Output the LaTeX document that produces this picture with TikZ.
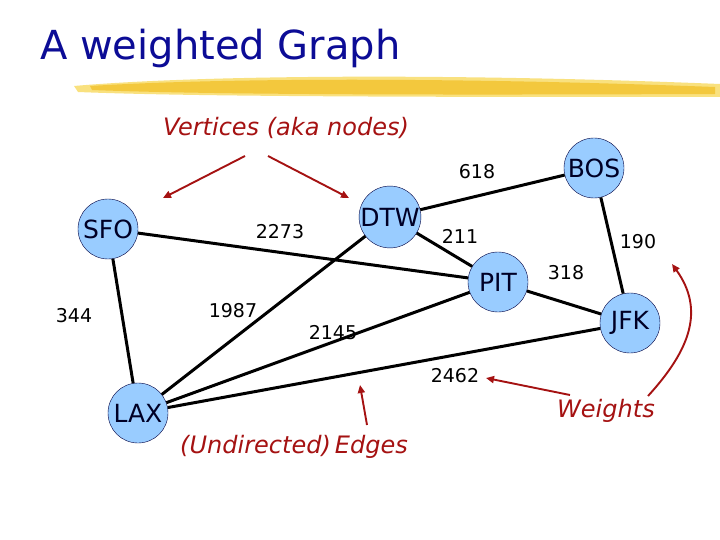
\documentclass[tikz,border=0pt]{standalone}
\usepackage{fontspec}
\setmainfont{DejaVu Sans}
\usetikzlibrary{arrows.meta}
\definecolor{titleblue}{RGB}{12,12,150}
\definecolor{nodeblue}{RGB}{153,204,255}
\definecolor{darkred}{RGB}{165,18,18}
\definecolor{brushA}{RGB}{242,196,50}
\definecolor{brushB}{RGB}{248,220,105}
\begin{document}
\begin{tikzpicture}[x=1pt,y=-1pt,
  vertex/.style={circle,draw=black!75!blue,fill=nodeblue,minimum size=60pt,inner sep=0pt,font=\fontsize{25}{25}\selectfont,text=black!85!blue},
  edge/.style={line width=3pt,black},
  weight/.style={font=\fontsize{19}{19}\selectfont},
  note/.style={text=darkred,font=\itshape\fontsize{24}{24}\selectfont},
  pointer/.style={darkred,line width=1.9pt,-{Triangle[length=8pt,width=7pt]}}]
\useasboundingbox[fill=white] (0,0) rectangle (720,540);
% title
\node[anchor=base west,text=titleblue,font=\fontsize{40}{40}\selectfont,inner sep=0pt] (title) at (40,60) {A weighted Graph};
% brush stroke
\fill[brushB,opacity=0.85] (74,86) .. controls (200,75) and (450,73) .. (720,84) -- (720,97) .. controls (450,97) and (200,97) .. (78,92) -- cycle;
\fill[brushA,opacity=0.85] (90,86) .. controls (220,78) and (450,77) .. (715,87) -- (715,94) .. controls (450,95) and (220,95) .. (92,90) -- cycle;
% vertices
\node[vertex] (SFO) at (108,229) {SFO};
\node[vertex] (DTW) at (390,217) {DTW};
\node[vertex] (BOS) at (594,168) {BOS};
\node[vertex] (PIT) at (498,282) {PIT};
\node[vertex] (JFK) at (630,323) {JFK};
\node[vertex] (LAX) at (138,413) {LAX};
% edges
\draw[edge] (SFO) -- (PIT);
\draw[edge] (SFO) -- (LAX);
\draw[edge] (DTW) -- (LAX);
\draw[edge] (DTW) -- (BOS);
\draw[edge] (DTW) -- (PIT);
\draw[edge] (BOS) -- (JFK);
\draw[edge] (PIT) -- (JFK);
\draw[edge] (PIT) -- (LAX);
\draw[edge] (JFK) -- (LAX);
% weights
\node[weight] (w2273) at (280,232) {2273};
\node[weight] (w1987) at (233,311) {1987};
\node[weight] (w618) at (477,172) {618};
\node[weight] (w211) at (460,236) {211};
\node[weight] (w190) at (638,242) {190};
\node[weight] (w318) at (566,273) {318};
\node[weight] (w2145) at (333,333) {2145};
\node[weight] (w2462) at (455,376) {2462};
\node[weight] (w344) at (74,316) {344};
% notes
\node[note] (nv) at (286,128) {Vertices (aka nodes)};
\node[note] (ne) at (294,447) {(Undirected)\,Edges};
\node[note] (nw) at (606,411) {Weights};
% pointers
\coordinate (v1s) at (245,156); \coordinate (v1e) at (163,198);
\coordinate (v2s) at (268,156); \coordinate (v2e) at (349,198);
\coordinate (es) at (367,425); \coordinate (ee) at (360,385);
\coordinate (w1s) at (570,395); \coordinate (w1e) at (486,378);
\coordinate (w2s) at (648,396); \coordinate (w2e) at (672,264);
\draw[pointer] (v1s) -- (v1e);
\draw[pointer] (v2s) -- (v2e);
\draw[pointer] (es) -- (ee);
\draw[pointer] (w1s) -- (w1e);
\draw[pointer] (w2s) .. controls (690,350) and (705,310) .. (w2e);
\end{tikzpicture}
\end{document}
